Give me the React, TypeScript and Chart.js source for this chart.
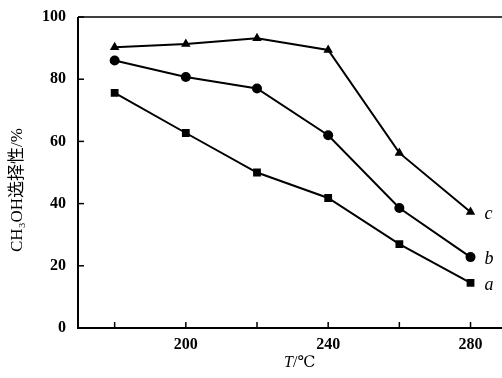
import React, { useEffect, useRef } from "react";
import { Chart, registerables } from "chart.js";

Chart.register(...registerables);

const temps = [180, 200, 220, 240, 260, 280];
const seriesA = [75.6, 62.7, 50, 41.8, 27, 14.5];
const seriesB = [86, 80.7, 77, 62, 38.6, 22.8];
const seriesC = [90.3, 91.3, 93.2, 89.4, 56.3, 37.3];
const seriesNames = ["a", "b", "c"];
const xTicks = [180, 200, 220, 240, 260, 280];
const xLabeled = [200, 240, 280];
const yTicks = [0, 20, 40, 60, 80, 100];
const yTitle = "CH₃OH选择性/%";

const SERIF = '"Liberation Serif", "DejaVu Serif", serif';

export default function App() {
  const ref = useRef<HTMLCanvasElement>(null);
  useEffect(() => {
    const canvas = ref.current!;
    const mk = (vals: number[]) => temps.map((t, i) => ({ x: t, y: vals[i] }));
    const decor = {
      id: "decor",
      afterDraw(chart: any) {
        const { ctx, chartArea: ca } = chart;
        const xs = chart.scales.x;
        const ys = chart.scales.y;
        const right = 502;
        ctx.save();
        ctx.strokeStyle = "#000";
        ctx.fillStyle = "#000";
        ctx.lineWidth = 2;
        ctx.beginPath();
        ctx.moveTo(ca.left, ca.top);
        ctx.lineTo(ca.left, ca.bottom);
        ctx.lineTo(right, ca.bottom);
        ctx.stroke();
        ctx.lineWidth = 1.5;
        ctx.beginPath();
        ctx.moveTo(ca.left, ca.top);
        ctx.lineTo(right, ca.top);
        ctx.stroke();
        ctx.lineWidth = 1.5;
        xTicks.forEach((v) => {
          const px = xs.getPixelForValue(v);
          ctx.beginPath();
          ctx.moveTo(px, ca.bottom);
          ctx.lineTo(px, ca.bottom - 6);
          ctx.stroke();
        });
        yTicks.forEach((v) => {
          const py = ys.getPixelForValue(v);
          ctx.beginPath();
          ctx.moveTo(ca.left, py);
          ctx.lineTo(ca.left + 6, py);
          ctx.stroke();
        });
        ctx.font = `bold 16px ${SERIF}`;
        ctx.textAlign = "center";
        ctx.textBaseline = "middle";
        xLabeled.forEach((v) => {
          ctx.fillText(String(v), xs.getPixelForValue(v), ca.bottom + 17);
        });
        ctx.textAlign = "right";
        yTicks.forEach((v) => {
          ctx.fillText(String(v), ca.left - 12, ys.getPixelForValue(v));
        });
        ctx.textAlign = "left";
        ctx.font = `italic 16px ${SERIF}`;
        const tW = ctx.measureText("T").width;
        ctx.font = `16px ${SERIF}`;
        const restW = ctx.measureText("/℃").width;
        const cx = xs.getPixelForValue(232);
        const startX = cx - (tW + restW) / 2;
        ctx.font = `italic 16px ${SERIF}`;
        ctx.fillText("T", startX, ca.bottom + 35);
        ctx.font = `16px ${SERIF}`;
        ctx.fillText("/℃", startX + tW, ca.bottom + 35);
        ctx.save();
        ctx.translate(18, 190);
        ctx.rotate(-Math.PI / 2);
        ctx.textAlign = "center";
        ctx.font = `17px ${SERIF}, "Noto Sans CJK SC"`;
        ctx.fillText(yTitle, 0, 0);
        ctx.restore();
        ctx.font = `italic 18px ${SERIF}`;
        ctx.textAlign = "left";
        chart.data.datasets.forEach((ds: any, i: number) => {
          const meta = chart.getDatasetMeta(i);
          const last = meta.data[meta.data.length - 1];
          ctx.fillText(seriesNames[i], last.x + 14, last.y + 2);
        });
        ctx.restore();
      },
    };
    const common = {
      borderColor: "#000",
      backgroundColor: "#000",
      borderWidth: 2,
      pointBorderWidth: 0,
    };
    const chart = new Chart(canvas, {
      type: "line",
      data: {
        datasets: [
          { ...common, label: "a", data: mk(seriesA), pointStyle: "rect", pointRadius: 5.5 },
          { ...common, label: "b", data: mk(seriesB), pointStyle: "circle", pointRadius: 5 },
          { ...common, label: "c", data: mk(seriesC), pointStyle: "triangle", pointRadius: 5.5 },
        ],
      },
      options: {
        animation: false,
        responsive: false,
        maintainAspectRatio: false,
        layout: { padding: { top: 17, right: 0, left: 0, bottom: 0 } },
        plugins: { legend: { display: false }, tooltip: { enabled: false } },
        scales: {
          x: {
            type: "linear",
            min: 169.7,
            max: 287.3,
            grid: { display: false },
            border: { display: false },
            ticks: { display: false },
            afterBuildTicks: (s: any) => {
              s.ticks = xTicks.map((v) => ({ value: v }));
            },
            afterFit: (s: any) => {
              s.height = 50;
            },
          },
          y: {
            min: 0,
            max: 100,
            grid: { display: false },
            border: { display: false },
            ticks: { display: false },
            afterBuildTicks: (s: any) => {
              s.ticks = yTicks.map((v) => ({ value: v }));
            },
            afterFit: (s: any) => {
              s.width = 78;
            },
          },
        },
      },
      plugins: [decor],
    } as any);
    return () => chart.destroy();
  }, []);
  return (
    <div style={{ position: "fixed", left: 0, top: 0, width: 502, height: 378, background: "#fff" }}>
      <canvas ref={ref} width={502} height={378} style={{ display: "block" }} />
    </div>
  );
}
